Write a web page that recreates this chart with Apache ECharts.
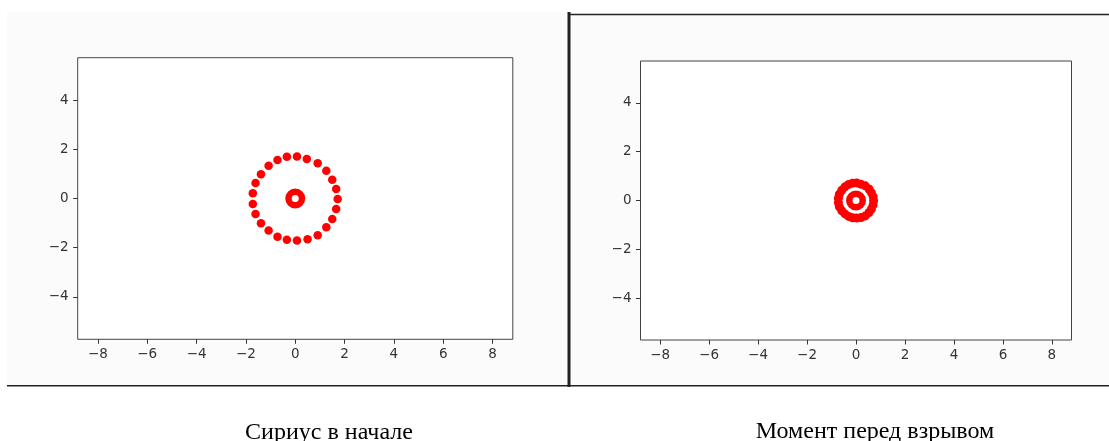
<!DOCTYPE html>
<html>
<head>
<meta charset="utf-8">
<script src="https://cdn.jsdelivr.net/npm/echarts@6/dist/echarts.min.js"></script>
<style>
html,body{margin:0;padding:0;background:#ffffff;}
#chart{width:1109px;height:441px;}
</style>
</head>
<body>
<div id="chart"></div>
<script>
// ---- data ----
const captions = ['Сириус в начале', 'Момент перед взрывом'];
const xTicks = [-8, -6, -4, -2, 0, 2, 4, 6, 8];
const yTicks = [-4, -2, 0, 2, 4];
// outer particles, left panel ("at start")
const ringStart = [
  [0.07, 1.71], [0.47, 1.60], [0.91, 1.43], [1.26, 1.13], [1.50, 0.76],
  [1.66, 0.39], [1.72, -0.02], [1.66, -0.43], [1.50, -0.83], [1.26, -1.17],
  [0.91, -1.49], [0.50, -1.66], [0.07, -1.71], [-0.34, -1.68], [-0.72, -1.55],
  [-1.08, -1.30], [-1.39, -1.01], [-1.61, -0.63], [-1.72, -0.22], [-1.72, 0.21],
  [-1.61, 0.63], [-1.39, 0.99], [-1.08, 1.33], [-0.72, 1.56], [-0.34, 1.70]
];
// outer particles, right panel ("before explosion")
const ringBefore = [
  [0.03, 0.72], [0.20, 0.67], [0.38, 0.60], [0.53, 0.47], [0.63, 0.32],
  [0.70, 0.16], [0.72, -0.01], [0.70, -0.18], [0.63, -0.35], [0.53, -0.49],
  [0.38, -0.63], [0.21, -0.70], [0.03, -0.72], [-0.14, -0.71], [-0.30, -0.65],
  [-0.45, -0.55], [-0.58, -0.42], [-0.68, -0.26], [-0.72, -0.09], [-0.72, 0.09],
  [-0.68, 0.26], [-0.58, 0.42], [-0.45, 0.56], [-0.30, 0.66], [-0.14, 0.71]
];
// central star
const coreStart = [[0, 0]];
const coreBefore = [[0, 0]];

// ---- chart ----
const RED = '#ff0000';
const fmt = v => (v < 0 ? '\u2212' + Math.abs(v) : String(v));
function xAx(gi, lim) {
  return {
    type: 'value', gridIndex: gi, min: -lim, max: lim, position: 'bottom',
    axisLine: { show: false, onZero: false },
    splitLine: { show: false },
    axisTick: { show: true, length: 4.5, customValues: xTicks, lineStyle: { color: '#333', width: 1 } },
    axisLabel: { customValues: xTicks, formatter: fmt, margin: 8, color: '#333',
      fontFamily: 'DejaVu Sans', fontSize: 13.5 }
  };
}
function yAx(gi, lim) {
  return {
    type: 'value', gridIndex: gi, min: -lim, max: lim, position: 'left',
    axisLine: { show: false, onZero: false },
    splitLine: { show: false },
    axisTick: { show: true, length: 4.5, customValues: yTicks, lineStyle: { color: '#333', width: 1 } },
    axisLabel: { customValues: yTicks, formatter: fmt, margin: 9, color: '#333',
      fontFamily: 'DejaVu Sans', fontSize: 13.5 }
  };
}
const dots = (gi, data, size) => ({
  type: 'scatter', xAxisIndex: gi, yAxisIndex: gi, data: data,
  symbol: 'circle', symbolSize: size, itemStyle: { color: RED, opacity: 1 },
  emphasis: { disabled: true }, silent: true
});
const core = (gi, data) => ({
  type: 'scatter', xAxisIndex: gi, yAxisIndex: gi, data: data,
  symbol: 'circle', symbolSize: 13.5,
  itemStyle: { color: '#ffffff', borderColor: RED, borderWidth: 6.5, opacity: 1 },
  emphasis: { disabled: true }, silent: true, z: 3
});

const chart = echarts.init(document.getElementById('chart'), null, { renderer: 'canvas' });
chart.setOption({
  animation: false,
  backgroundColor: '#ffffff',
  grid: [
    { left: 77.7, top: 57.7, width: 435.1, height: 281.6, show: true,
      backgroundColor: '#ffffff', borderColor: '#444', borderWidth: 1, containLabel: false },
    { left: 640.5, top: 61, width: 431, height: 279, show: true,
      backgroundColor: '#ffffff', borderColor: '#444', borderWidth: 1, containLabel: false }
  ],
  xAxis: [xAx(0, 8.82), xAx(1, 8.8)],
  yAxis: [yAx(0, 5.72), yAx(1, 5.71)],
  series: [
    dots(0, ringStart, 8.5),
    core(0, coreStart),
    dots(1, ringBefore, 9),
    core(1, coreBefore)
  ],
  graphic: [
    { type: 'rect', z: -10, shape: { x: 7, y: 12, width: 561, height: 374 }, style: { fill: '#fbfbfb' }, silent: true },
    { type: 'rect', z: -10, shape: { x: 570, y: 15, width: 539, height: 371 }, style: { fill: '#fbfbfb' }, silent: true },
    { type: 'line', z: 10, shape: { x1: 569, y1: 12, x2: 569, y2: 387 }, style: { stroke: '#222', lineWidth: 3 }, silent: true },
    { type: 'line', z: 10, shape: { x1: 568, y1: 14.5, x2: 1109, y2: 14.5 }, style: { stroke: '#222', lineWidth: 1.5 }, silent: true },
    { type: 'line', z: 10, shape: { x1: 7, y1: 385.7, x2: 1109, y2: 385.7 }, style: { stroke: '#222', lineWidth: 1.5 }, silent: true },
    { type: 'text', z: 10, style: { x: 329, y: 421, text: captions[0], textAlign: 'center', textVerticalAlign: 'top',
      font: '24px "Liberation Serif", "DejaVu Serif", serif', fill: '#000' }, silent: true },
    { type: 'text', z: 10, style: { x: 875, y: 420, text: captions[1], textAlign: 'center', textVerticalAlign: 'top',
      font: '24px "Liberation Serif", "DejaVu Serif", serif', fill: '#000' }, silent: true }
  ]
});
</script>
</body>
</html>
